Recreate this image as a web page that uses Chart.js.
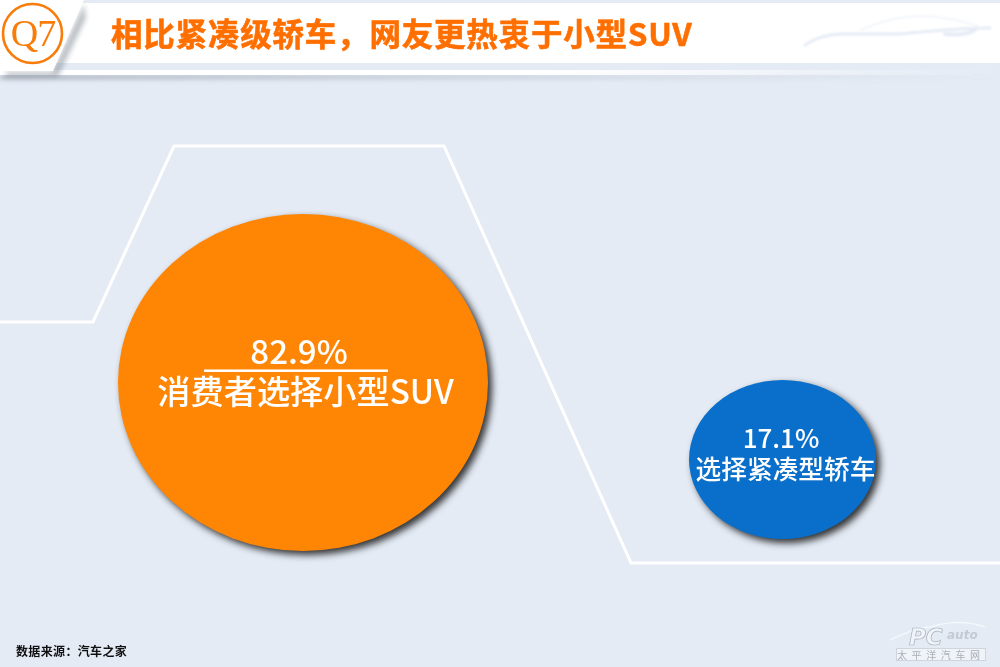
<!DOCTYPE html>
<html lang="zh">
<head>
<meta charset="utf-8">
<style>
html,body{margin:0;padding:0;width:1000px;height:667px;overflow:hidden;background:#e4ebf5}
#stage{position:relative;width:1000px;height:667px;background:#e4ebf5;overflow:hidden}
#stage>*{position:absolute}
svg.bg{left:0;top:0}
#wrap{left:0;top:0;width:1000px;height:667px}
#title{left:111px;top:9px;font:700 31.500px "Noto Sans CJK SC";letter-spacing:.8px;color:#ff6f00;-webkit-text-stroke:.6px #ff6f00;line-height:46px;white-space:nowrap}
#q{left:3px;top:9px;width:60px;text-align:center;font:38px "Liberation Serif";color:#f97b0a;line-height:48px;letter-spacing:-1px}
#src{left:16px;top:642px;font:700 12px "Noto Sans CJK SC";letter-spacing:.35px;color:#111;line-height:18px;white-space:nowrap}
#brand{left:897px;top:649px;width:88px;font:10px "Noto Sans CJK SC";color:#a8afb8;letter-spacing:4.6px;line-height:12px;white-space:nowrap}
#pc{left:909px;top:626px;font:italic 700 23px "DejaVu Sans";color:#f0f4fa;-webkit-text-stroke:.7px #a9b0ba;line-height:22px;white-space:nowrap}
#auto{left:947px;top:629px;font:italic 700 12px "DejaVu Sans";color:#c4cad3;line-height:12px;white-space:nowrap}
</style>
</head>
<body>
<div id="stage">
<svg class="bg" width="1000" height="667" viewBox="0 0 1000 667">
  <defs>
    <filter id="b1" x="-20%" y="-200%" width="140%" height="500%"><feGaussianBlur stdDeviation="2.5"/></filter>
    <filter id="b2" x="-10%" y="-100%" width="120%" height="300%"><feGaussianBlur stdDeviation="1.200"/></filter>
    <filter id="b3"><feGaussianBlur stdDeviation=".4"/></filter>
    <linearGradient id="fade" x1="0" x2="1" y1="0" y2="0">
      <stop offset="0" stop-color="#ffffff"/><stop offset=".55" stop-color="#ffffff"/><stop offset="1" stop-color="#ffffff" stop-opacity="0"/>
    </linearGradient>
    <linearGradient id="sh" x1="0" x2="1" y1="0" y2="0">
      <stop offset="0" stop-color="#8c94a0" stop-opacity=".75"/><stop offset=".6" stop-color="#8c94a0" stop-opacity=".25"/><stop offset="1" stop-color="#8c94a0" stop-opacity="0"/>
    </linearGradient>
  </defs>
  <rect x="0" y="75" width="1000" height="4" fill="url(#sh)" filter="url(#b1)"/>
  <rect x="0" y="70" width="1000" height="5" fill="url(#fade)"/>
  <rect x="0" y="3" width="1000" height="60" fill="#ffffff"/>
  <polygon points="6,72 52,72 84,4 86,18 58,77 6,77" fill="#7d8590" opacity=".5" filter="url(#b1)"/>
  <polygon points="0,0 84,0 53,71 0,71" fill="#ffffff"/>
  <circle cx="32.500" cy="33.500" r="29.500" fill="none" stroke="#f97b0a" stroke-width="2.600"/>
  <g fill="none" stroke="#e6ecf6" stroke-linecap="round" filter="url(#b2)">
    <path d="M805 45 Q820 35 840 34 L900 34 Q960 28 990 28" stroke-width="3"/>
    <path d="M860 30 Q895 15 925 16 Q950 17 978 26" stroke-width="1"/>
    <path d="M945 34 Q965 36 975 30" stroke-width="4"/>
  </g>
  <polyline points="0,322 93,322 174,146 444,146 631,563 1000,563" fill="none" stroke="#ffffff" stroke-width="3"/>
  <g fill="none" stroke="#f4f7fb" filter="url(#b3)">
    <path d="M890 640 Q915 628 930 627 Q960 618 985 627" stroke-width="1.600"/>
  </g>
  <rect x="896.500" y="648.500" width="89" height="12" fill="#f0f3f8" stroke="#cfd5de"/>
</svg>
<div id="wrap"><canvas id="chart" width="1000" height="667"></canvas></div>
<div id="q">Q7</div>
<div id="title">相比紧凑级轿车，网友更热衷于小型SUV</div>
<div id="src">数据来源：汽车之家</div>
<div id="pc">PC</div>
<div id="auto">auto</div>
<div id="brand">太平洋汽车网</div>
</div>
<script src="https://cdn.jsdelivr.net/npm/chart.js@4/dist/chart.umd.min.js"></script>
<script>
const categories = ['小型SUV', '紧凑型轿车'];
const shares = [82.9, 17.1];
const sizes = [168.5, 79.5];
const shareLabels = ['82.9%', '17.1%'];
const nameLabels = ['消费者选择小型SUV', '选择紧凑型轿车'];

const colors = ['#ff8505', '#0a6fca'];
const xStretch = [1.098, 1.176];

const ellipses = {
  id: 'ellipses',
  beforeDatasetDraw(chart) {
    const points = chart.getDatasetMeta(0).data;
    points.forEach((pt, i) => {
      pt.draw = function (ctx, area) {
        ctx.save();
        ctx.shadowColor = 'rgba(20,20,20,0.85)';
        ctx.shadowBlur = 7;
        ctx.shadowOffsetX = 4;
        ctx.shadowOffsetY = 4;
        ctx.translate(this.x, this.y);
        ctx.scale(xStretch[i], 1);
        ctx.translate(-this.x, -this.y);
        Chart.PointElement.prototype.draw.call(this, ctx, area);
        ctx.restore();
      };
    });
  }
};

const textStyle = [
  {num: '500 33px "Noto Sans CJK SC"', name: '500 33.200px "Noto Sans CJK SC"', numDy: -31, nameDy: 9, numDx: -4, nameDx: 2.5, rule: [-99, 85, -13]},
  {num: '500 26px "Noto Sans CJK SC"', name: '500 25.700px "Noto Sans CJK SC"', numDy: -21, nameDy: 9.500, numDx: -1.500, nameDx: 3, rule: null}
];

const bubbleText = {
  id: 'bubbleText',
  afterDatasetsDraw(chart) {
    const ctx = chart.ctx;
    chart.getDatasetMeta(0).data.forEach((pt, i) => {
      const s = textStyle[i];
      ctx.save();
      ctx.fillStyle = '#ffffff';
      ctx.textAlign = 'center';
      ctx.textBaseline = 'middle';
      ctx.font = s.num;
      ctx.fillText(shareLabels[i], pt.x + s.numDx, pt.y + s.numDy);
      ctx.font = s.name;
      ctx.fillText(nameLabels[i], pt.x + s.nameDx, pt.y + s.nameDy);
      if (s.rule) {
        ctx.fillRect(pt.x + s.rule[0], pt.y + s.rule[2], s.rule[1] - s.rule[0], 2.5);
      }
      ctx.restore();
    });
  }
};

new Chart(document.getElementById('chart'), {
  type: 'bubble',
  data: {
    labels: categories,
    datasets: [{
      data: categories.map((c, i) => ({x: c, y: shares[i], r: sizes[i]})),
      backgroundColor: colors,
      borderWidth: 0,
      hoverBorderWidth: 0,
      clip: false
    }]
  },
  options: {
    responsive: false,
    animation: false,
    events: [],
    layout: {autoPadding: false, padding: {left: 303, right: 217.5, top: 0, bottom: 0}},
    plugins: {legend: {display: false}, tooltip: {enabled: false}},
    scales: {
      x: {type: 'category', display: false, offset: false},
      y: {type: 'linear', display: false, min: -160.3, max: 409.8}
    }
  },
  plugins: [ellipses, bubbleText]
});
</script>
</body>
</html>
